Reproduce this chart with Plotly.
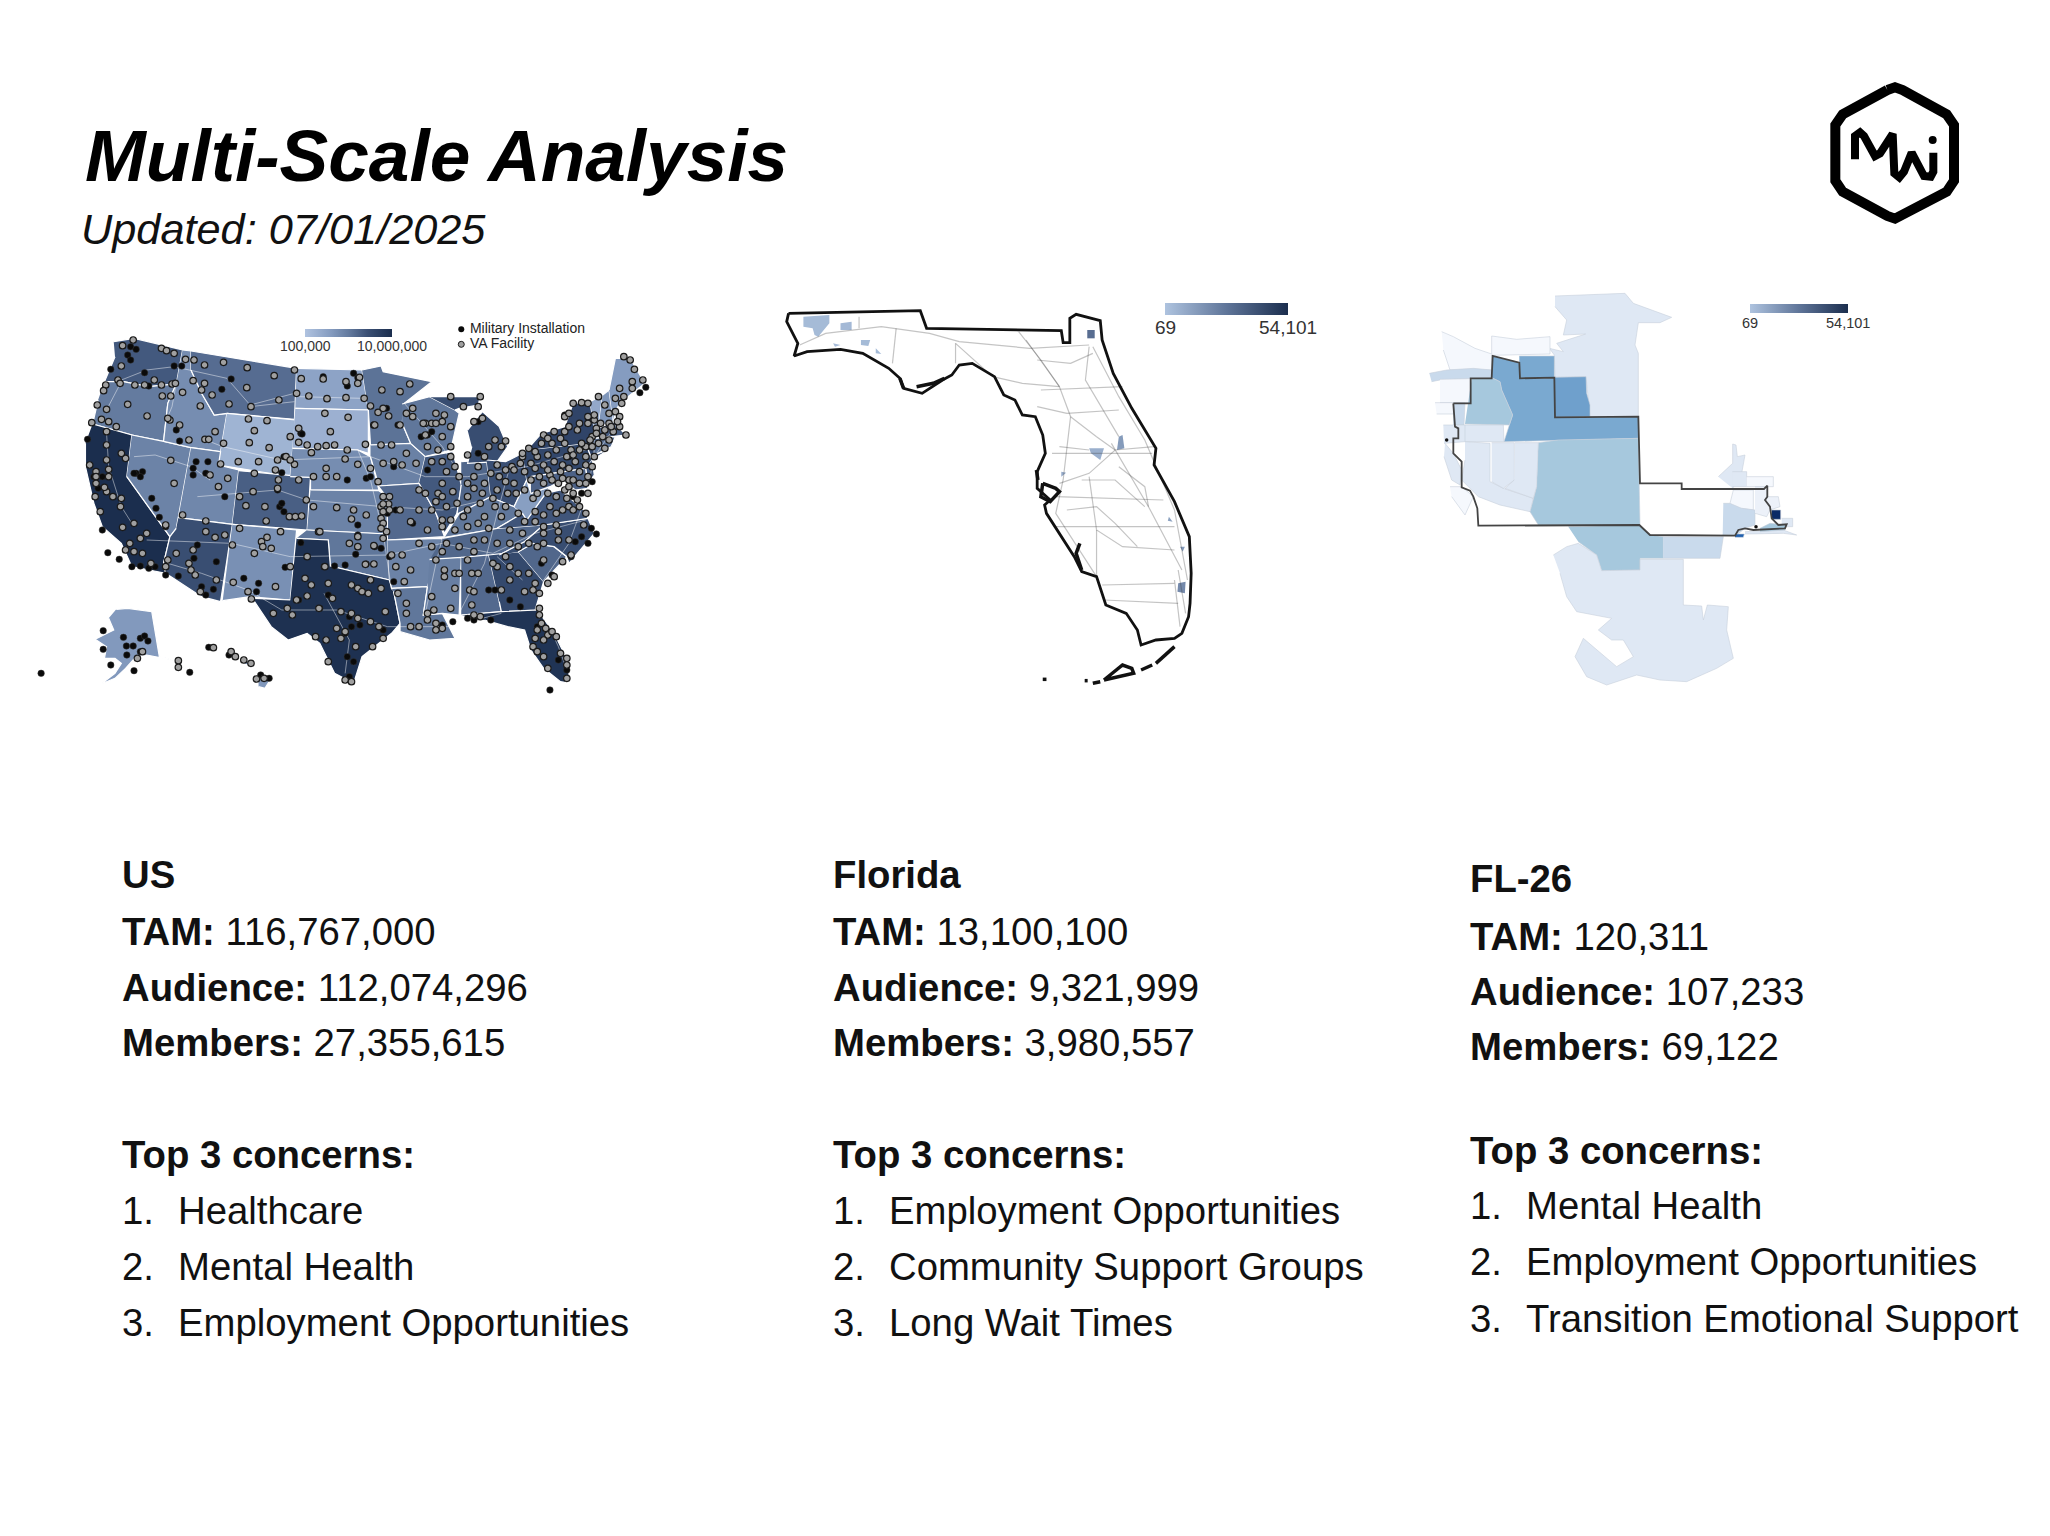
import math
import plotly.graph_objects as go
import plotly.colors as pc

# page text
TITLE = "Multi-Scale Analysis"
UPDATED = "Updated: 07/01/2025"
REGIONS = ["US", "Florida", "FL-26"]
TAM = ["116,767,000", "13,100,100", "120,311"]
AUDIENCE = ["112,074,296", "9,321,999", "107,233"]
MEMBERS = ["27,355,615", "3,980,557", "69,122"]
CONCERNS = [
    ["Healthcare", "Mental Health", "Employment Opportunities"],
    ["Employment Opportunities", "Community Support Groups", "Long Wait Times"],
    ["Mental Health", "Employment Opportunities", "Transition Emotional Support"],
]

# US map: estimated value per state, outlines (map units)
STATE_VALUES = {
    "WA": 2200000, "OR": 1000000, "CA": 10000000, "NV": 800000, "ID": 600000, "MT": 1400000,
    "WY": 170000, "UT": 700000, "CO": 1900000, "AZ": 2900000, "NM": 550000, "ND": 300000,
    "SD": 190000, "NE": 600000, "KS": 800000, "OK": 1100000, "TX": 9000000, "MN": 1200000,
    "IA": 850000, "MO": 1500000, "AR": 800000, "LA": 1100000, "WI": 1100000, "IL": 2200000,
    "IN": 1600000, "MI": 3000000, "MI2": 3000000, "OH": 2800000, "KY": 1100000, "TN": 1600000,
    "MS": 900000, "AL": 1500000, "GA": 3500000, "FL": 8000000, "SC": 1600000, "NC": 3000000,
    "VA": 2400000, "WV": 350000, "PA": 3800000, "NY": 4200000, "MD": 1800000, "NJ": 2300000,
    "VT": 250000, "NH": 450000, "ME": 380000, "MA": 2000000, "CT": 1200000, "AK": 420000,
    "HI1": 450000, "HI2": 450000, "HI3": 450000,
}
STATE_SHAPES = {
    "WA": [(222,185),(270,175),(385,210),(370,312),(305,320),(245,305),(200,305),(215,260),(225,230)],
    "OR": [(200,305),(245,305),(305,320),(370,312),(350,370),(340,484),(265,465),(172,432),(185,360)],
    "CA": [(172,432),(265,465),(253,590),(355,770),(340,850),(345,880),(265,860),(240,790),(195,740),(175,670),(155,560),(155,490)],
    "NV": [(265,465),(340,484),(405,503),(370,745),(355,770),(253,590)],
    "ID": [(385,210),(405,213),(405,270),(430,340),(460,405),(490,400),(475,515),(405,503),(340,484),(350,370),(370,312)],
    "MT": [(405,213),(655,265),(650,418),(490,400),(460,405),(430,340),(405,270)],
    "WY": [(490,400),(652,420),(640,590),(470,555)],
    "UT": [(405,503),(475,515),(470,555),(518,570),(503,733),(375,713)],
    "CO": [(518,572),(688,592),(680,750),(503,733)],
    "AZ": [(375,713),(503,733),(475,965),(430,950),(345,880),(340,850),(355,770),(370,745)],
    "NM": [(503,733),(655,750),(640,960),(545,950),(480,962)],
    "ND": [(655,265),(810,270),(825,390),(652,385)],
    "SD": [(652,385),(825,390),(825,520),(800,510),(645,505)],
    "NE": [(645,505),(800,510),(830,530),(850,630),(688,630),(688,592),(640,590)],
    "KS": [(688,630),(850,632),(870,650),(870,762),(680,750)],
    "OK": [(680,750),(870,762),(875,900),(810,880),(735,858),(730,780),(655,775)],
    "TX": [(655,775),(730,780),(735,858),(810,880),(875,900),(885,935),(900,1030),(880,1060),(810,1130),(790,1210),(745,1180),(710,1090),(680,1060),(635,1080),(595,1040),(550,955),(640,960)],
    "MN": [(810,270),(855,258),(860,275),(975,305),(910,370),(905,430),(925,490),(830,495),(825,390)],
    "IA": [(830,495),(925,490),(960,530),(950,590),(945,610),(850,618),(830,530)],
    "MO": [(850,618),(945,610),(985,700),(1005,770),(870,780),(870,650)],
    "AR": [(870,780),(1000,775),(965,920),(880,925),(875,900)],
    "LA": [(880,925),(965,920),(955,1005),(1000,1000),(1030,1075),(970,1080),(900,1055),(900,1030),(885,935)],
    "WI": [(905,372),(970,350),(1030,390),(1040,400),(1020,510),(960,530),(925,490),(905,430)],
    "IL": [(960,530),(1025,515),(1045,615),(1035,700),(1005,760),(985,700),(945,610)],
    "IN": [(1045,545),(1105,540),(1115,650),(1040,700),(1035,700),(1045,615)],
    "MI": [(1060,450),(1095,395),(1135,440),(1155,500),(1130,545),(1060,550),(1070,500)],
    "MI2": [(970,350),(1030,350),(1090,350),(1085,375),(1040,385),(1030,390)],
    "OH": [(1105,540),(1150,545),(1190,520),(1200,600),(1170,680),(1130,660),(1115,650)],
    "KY": [(1005,770),(1040,700),(1115,650),(1130,660),(1170,680),(1190,700),(1130,745)],
    "TN": [(1000,775),(1130,745),(1240,735),(1195,785),(1135,825),(970,840)],
    "MS": [(970,838),(1045,832),(1040,1005),(1000,1000),(955,1005),(965,920)],
    "AL": [(1045,832),(1110,825),(1135,965),(1140,995),(1045,1005)],
    "GA": [(1110,825),(1180,815),(1240,905),(1220,990),(1140,995),(1135,965)],
    "FL": [(1045,1005),(1140,995),(1225,990),(1265,1060),(1300,1150),(1300,1195),(1290,1207),(1280,1205),(1240,1165),(1210,1110),(1195,1050),(1155,1040),(1100,1020)],
    "SC": [(1180,815),(1215,790),(1265,800),(1295,830),(1240,905)],
    "NC": [(1135,825),(1195,785),(1240,735),(1345,715),(1360,760),(1300,850),(1295,830),(1265,800),(1215,790),(1180,815)],
    "VA": [(1130,745),(1190,700),(1200,720),(1245,640),(1280,630),(1335,690),(1345,715),(1240,735)],
    "WV": [(1170,680),(1200,600),(1210,640),(1255,620),(1245,640),(1200,720),(1190,700)],
    "PA": [(1190,520),(1200,510),(1340,490),(1355,540),(1340,565),(1210,590),(1200,600)],
    "NY": [(1200,510),(1235,460),(1290,440),(1310,370),(1350,365),(1360,450),(1360,525),(1400,505),(1355,540),(1340,490)],
    "MD": [(1210,590),(1340,565),(1345,625),(1315,630),(1285,600),(1255,620),(1210,640)],
    "NJ": [(1355,540),(1360,585),(1345,610),(1340,565)],
    "VT": [(1350,365),(1380,345),(1370,440),(1360,450)],
    "NH": [(1380,345),(1395,330),(1405,425),(1370,440)],
    "ME": [(1395,330),(1410,235),(1445,235),(1480,310),(1420,370),(1410,395),(1405,425)],
    "MA": [(1360,450),(1405,425),(1435,465),(1360,475)],
    "CT": [(1360,475),(1410,470),(1400,500),(1360,525)],
    "AK": [(228,988),(255,985),(312,995),(330,1130),(350,1135),(405,1175),(375,1150),(340,1135),(300,1125),(275,1130),(250,1165),(225,1195),(192,1212),(225,1180),(240,1150),(225,1135),(200,1135),(205,1100),(178,1078),(205,1060),(222,1050),(210,1015)],
    "HI1": [(520,1135),(545,1145),(540,1155),(525,1150)],
    "HI2": [(495,1115),(515,1120),(510,1135),(495,1130)],
    "HI3": [(565,1190),(595,1195),(580,1225),(565,1220)],
}
US_ROADS = [
    [(240,300),(300,270),(365,260),(400,270),(490,295),(545,375),(650,340)],
    [(205,390),(240,305)],[(205,460),(210,560),(240,680),(270,740)],
    [(345,425),(360,380),(370,310)],[(660,350),(810,355)],[(545,380),(650,365)],
    [(440,480),(480,500),(620,540),(830,530),(960,590),(1060,590),(1200,560),(1340,510)],
    [(270,530),(320,525),(405,560),(450,600)],[(420,650),(610,630),(680,660),(860,680),(1000,690),(1100,660)],
    [(300,780),(500,790),(640,830),(870,825),(1000,790)],[(350,850),(430,880),(540,930),(620,990),(750,990),(870,1040),(1020,1040),(1140,1000)],
    [(800,510),(830,600),(860,760),(880,930)],[(1000,775),(985,850),(960,1000)],[(1000,790),(1120,820),(1220,760),(1340,720)],
    [(1160,560),(1130,700),(1100,850),(1040,1000)],[(1190,900),(1130,830)],[(1240,900),(1300,790),(1340,650),(1360,530),(1420,420)],
    [(720,940),(780,1080),(770,1180)],[(1235,990),(1275,1100),(1295,1170)],[(910,370),(1000,500),(1030,560)],
]
LEGEND_LABELS = ["Military Installation", "VA Facility"]

VA_POINTS = [
    (243,197),(268,180),(335,205),(347,212),(365,220),(392,238),(412,240),(437,255),(482,247),(538,263),(650,270),(666,296),(718,297),(772,305),(804,292),(800,310),(857,330),(900,335),(923,312),
    (240,258),(232,300),(237,310),(203,315),(198,332),(183,375),(205,388),(193,418),(170,428),(210,425),(228,440),(255,373),(301,408),(272,315),(295,315),(318,300),(335,315),(360,312),(368,310),(337,348),(357,348),(385,337),(410,302),(437,310),(430,330),(455,345),(427,378),(495,372),(537,323),(602,287),(613,360),(547,380),(655,340),(684,348),(727,356),(772,353),(815,355),(830,378),(848,397),(873,408),(838,435),(860,385),
    (355,420),(378,435),(400,480),(438,478),(447,478),(462,455),(482,490),(350,415),
    (541,417),(585,422),(555,452),(640,470),(722,400),(777,412),(735,455),(660,445),(660,487),(680,495),(705,500),(725,497),(745,495),(690,518),(543,488),(590,503),(630,530),(517,545),(565,545),(475,552),(610,540),(650,553),(640,540),(605,570),
    (205,455),(205,540),(205,495),(165,555),(180,575),(210,568),(210,590),(250,535),(240,520),(357,541),(365,610),(470,620),(492,595),(450,585),
    (180,590),(180,610),(178,650),(205,635),(220,650),(240,655),(200,622),(238,680),(190,695),(243,742),(270,730),(300,760),(285,775),(260,790),(250,810),(270,815),(290,820),(310,850),(350,840),(345,860),(370,820),(410,810),(400,850),(405,870),(415,885),(465,900),(427,935),(385,705),(440,723),(462,772),(485,765),(440,755),(503,795),(520,745),(345,735),
    (555,580),(552,635),(520,650),(535,677),(612,600),(610,625),(660,600),(678,660),(580,680),(583,723),(638,710),(652,710),(667,708),(617,755),(707,755),
    (585,772),(572,785),(575,800),(595,805),(555,820),(505,907),(540,935),(605,920),(548,957),(640,860),
    (770,537),(800,553),(725,565),(695,590),(750,590),(725,590),(830,565),(848,605),(860,550),(885,545),(905,555),(915,520),(938,550),(855,495),(880,495),(775,510),(818,493),(840,435),(900,435),(975,430),(960,430),(1000,425),
    (750,683),(695,680),(710,755),(790,690),(785,717),(820,705),(855,680),(875,650),(860,650),(873,672),(860,672),(860,695),(875,690),(855,715),(860,730),(868,755),(855,745),(800,770),(780,790),(800,800),(838,797),(818,853),(838,852),(860,775),(880,825),
    (680,830),(722,860),(675,895),(690,915),(730,910),(785,915),(800,925),(810,935),(825,940),(830,900),(855,925),(680,948),(655,960),(600,1000),(633,985),(645,1005),(708,985),(740,955),(760,995),(785,1000),(800,1015),(830,1025),(865,995),(850,1040),(750,1045),(770,1055),(725,1080),(700,1070),(760,1075),(795,1100),(860,1075),(835,1100),(730,1145),(770,1200),(785,1205),
    (905,825),(925,870),(890,860),(910,905),(895,940),(915,970),(915,1000),(925,1040),(945,1040),(965,1020),(985,1030),(1000,1045),(985,1050),(965,1000),
    (900,690),(925,725),(945,690),(975,690),(1000,720),(1020,720),(1000,740),(965,750),(945,790),(975,800),(1010,790),(1000,815),(985,840),(1005,870),(1030,880),(1030,925),(1005,890),(975,950),(980,990),(1020,985),(1065,930),(1075,935),(1070,975),(1040,880),(1070,880),(1085,880),
    (915,400),(930,385),(930,410),(955,430),(985,400),(1005,405),(985,430),(1020,440),(1000,470),(965,500),(960,465),(990,510),(975,545),(1000,545),(1020,500),(1020,530),(1030,560),(1010,575),(1000,610),(1040,590),(945,630),(960,640),(990,640),(1000,650),(1025,635),(1060,650),(1075,625),(1100,610),(1075,590),(1085,560),(1130,555),(1165,560),(1185,550),(1190,530),(1150,605),(1130,630),(1155,640),(1175,640),(1095,640),(1090,670),(1125,680),(1150,680),(1100,710),(1050,710),(1060,740),(1030,750),(1075,780),(1100,780),(1040,800),(1060,840),(1075,815),(1130,790),(1160,790),(1180,800),(1205,790),(1190,760),(1160,750),(1195,725),(1220,695),(1215,655),(1240,740),(1275,755),(1240,760),(1270,735),
    (1075,425),(1095,415),(1125,480),(1140,500),(1150,483),(1110,500),(1100,530),(1060,525),(1020,350),(1050,380),(1085,380),(1090,350),
    (1130,860),(1160,860),(1180,880),(1205,880),(1220,910),(1160,900),(1140,930),(1195,935),(1215,930),(1230,940),(1250,910),(1240,840),(1265,890),(1285,845),(1305,825),(1300,780),(1275,780),(1240,790),(1225,800),(1150,830),(1120,850),(1090,1010),(1075,1005),
    (1230,985),(1230,1005),(1235,1030),(1225,1050),(1245,1045),(1250,1065),(1260,1055),(1220,1075),(1240,1080),(1270,1070),(1215,1100),(1225,1115),(1280,1120),(1295,1135),(1295,1155),(1295,1195),(1250,1165),(1240,1130),
    (1240,465),(1265,455),(1290,455),(1310,370),(1330,368),(1345,370),(1290,410),(1300,400),(1260,490),(1235,490),(1205,505),(1190,520),(1300,440),(1320,450),(1345,430),(1360,420),(1385,375),(1410,355),(1430,350),(1450,305),(1420,325),(1370,350),(1430,230),(1445,240),(1455,268),(1475,300),(1450,325),(1425,370),(1395,400),(1410,395),(1420,410),(1435,465),(1420,440),(1395,430),(1375,430),(1365,445),(1385,450),(1405,455),(1380,470),(1395,480),(1355,470),(1340,500),(1355,500),(1370,490),(1385,505),(1340,530),(1325,510),(1305,510),(1290,490),(1270,510),(1250,525),(1225,530),(1210,550),(1240,555),(1265,545),(1295,530),(1315,545),(1340,555),(1360,530),(1325,575),(1300,565),(1280,575),(1255,585),(1230,590),(1210,600),(1240,610),(1275,610),(1300,600),(1325,610),(1345,590),(1310,640),(1290,630),(1270,650),(1300,680),(1340,700),(1310,690),(1255,680),(1240,705),(1335,735),(1345,640),
    (278,1135),(290,1115),(375,1142),(375,1162),(458,1103),(500,1115),(510,1130),(530,1140),(547,1150),(560,1197),(578,1195),
    (1170,570),(1150,570),(1195,575),(1220,565),(1250,570),(1285,555),(1310,525),(1330,490),(1350,480),(1365,460),(1400,440),(1415,425),(1360,405),(1345,410),(1325,430),(1280,475),(1250,475),(1220,515),(1195,630),(1225,640),(1250,640),(1320,660),(1295,655),(1285,690),(1270,700),(1220,725),(1180,700),(1140,710),(1110,745),(1085,730),(1060,690),(1035,670),(1010,680),(985,665),(1060,610),(1115,580),(1135,590),(1170,610),(1120,655),(1300,620),(1325,680),(1355,560),(1340,610),(1310,600),(1285,595),(1260,600),
]
MILITARY_POINTS = [
    (262,200),(275,208),(255,225),(262,240),(215,268),(295,278),(365,258),(383,258),(305,318),(478,328),(500,297),(718,290),(775,318),(790,280),(800,293),(868,385),(895,435),(370,450),(378,483),(160,478),(275,580),(290,575),(285,590),(270,580),(410,565),(440,580),(445,545),(417,545),(410,585),(620,578),(625,530),(665,460),(668,462),(610,630),(615,680),(625,695),(620,670),(312,655),(322,685),(330,712),(345,740),(485,650),(175,590),(195,590),(185,625),(195,750),(208,818),(235,838),(265,860),(285,858),(305,865),(320,860),(345,885),(375,888),(412,835),(420,795),(465,845),(430,920),(440,945),(458,928),(665,788),(720,860),(745,858),(770,855),(820,852),(795,823),(840,800),(855,805),(875,830),(885,905),(800,765),(800,735),(870,700),(890,690),(930,730),(965,570),(885,560),(775,600),(820,595),(830,590),(950,470),(965,465),(975,455),(1085,520),(1085,425),(660,960),(565,910),(560,935),(530,895),(628,862),(730,945),(710,985),(780,1010),(785,1040),(805,1035),(770,1060),(775,1130),(790,1145),(780,1190),(860,1050),(1125,930),(1110,930),(1160,960),(1185,980),(1235,850),(1260,885),(1315,785),(1330,770),(1353,745),(1365,762),(1345,790),(1305,830),(1482,322),(1468,338),(1025,1025),(1000,1035),(1060,1015),(1075,1020),(1115,1020),(1255,1230),(1295,1170),(1275,1140),(1225,1040),(1355,605),(1330,640),(1310,650),(1300,530),(1290,405),
    (197,1052),(197,1108),(215,1155),(245,1072),(252,1098),(268,1098),(253,1125),(285,1075),(295,1068),(303,1083),(285,1115),(270,1172),(402,1177),(50,1180),(447,1102),(495,1125),(570,1185),(590,1195),
]

# Florida map
FL_OUTLINE = [(50,100),(405,92),(422,145),(785,152),(790,188),(808,188),(808,115),(825,103),(890,122),(895,180),(925,280),(975,385),(1040,505),(1035,555),(1090,665),(1130,770),(1135,880),(1132,970),(1128,1010),(1110,1060),(1090,1075),(1040,1080),(1000,1095),(990,1050),(960,1000),(905,975),(880,890),(840,875),(820,830),(780,760),(745,700),(740,675),(755,660),(720,625),(720,575),(742,520),(735,465),(715,410),(680,405),(660,360),(630,345),(605,290),(545,250),(510,255),(490,285),(465,300),(410,340),(360,325),(350,295),(320,265),(250,220),(190,208),(100,215),(65,228),(75,190),(45,125),(50,100)]
FL_COAST_BITS = [
    [(735,610),(770,625),(780,635),(755,665),(730,650),(735,610)],
    [(835,790),(825,820),(840,870)],[(395,320),(440,310),(470,295)],[(350,295),(360,325)],
    [(900,1200),(950,1155),(975,1165),(980,1180),(900,1200)],[(1000,1170),(1030,1155)],[(1040,1150),(1090,1100)],[(870,1210),(890,1205)],
    [(735,1198),(745,1198)],[(848,1202),(856,1202)],[(718,570),(722,600)],
]
FL_ROADS = [
    [(80,195),(150,160),(300,140),(430,160),(510,185),(700,205),(860,195)],
    [(690,180),(780,320),(810,410),(790,600),(770,700),(880,890)],
    [(870,200),(940,350),(1010,480),(1090,690),(1125,900)],
    [(780,610),(860,580),(930,510),(1035,500)],
    [(920,490),(1020,680),(1110,870)],
    [(895,915),(1090,910)],
    [(730,330),(950,320)],[(500,190),(500,250)],[(760,520),(1030,520)],[(770,650),(1060,660)],[(770,740),(1090,740)],
    [(860,590),(880,750),(950,800),(1090,810)],[(800,400),(940,390)],[(880,750),(880,890)],[(900,960),(1100,970)],
    [(670,155),(730,240),(780,320)],[(860,200),(850,300),(940,470)],[(720,380),(800,400)],
    [(500,190),(600,290),(680,310),(780,320)],[(720,240),(810,250),(870,220)],[(810,410),(880,470),(930,510)],
    [(940,560),(1010,620),(1020,680)],[(840,600),(930,600),(1010,680)],[(780,500),(860,510)],[(800,690),(880,680),(930,730),(990,800)],
    [(330,250),(340,145)],[(240,110),(240,145)],[(1100,870),(1120,1000)],[(1090,900),(1105,1040)],
]
FL_PATCHES = [
    [(90,110),(160,105),(160,130),(130,170),(120,165),(115,145),(90,140)],
    [(190,130),(220,125),(220,150),(190,150)],[(245,180),(270,180),(265,198),(245,195)],[(170,190),(190,195),(175,200)],
    [(855,150),(875,150),(875,175),(855,175)],[(860,505),(900,505),(890,540),(865,520)],[(940,470),(950,465),(955,505),(935,510)],
    [(1105,800),(1118,800),(1112,815)],[(1075,710),(1085,725),(1072,722)],[(1100,910),(1120,905),(1118,940),(1098,935)],
    [(785,575),(798,578),(785,590)],[(285,205),(300,222),(285,220)],
]
FL_PATCH_VALUES = [3000, 3500, 3000, 2500, 30000, 7000, 14000, 14000, 12000, 20000, 9000, 3000]

# FL-26 map
CD_SHAPES = [
    [(405,48),(615,40),(640,70),(755,112),(720,128),(655,128),(645,195),(655,220),(655,410),(510,410),(498,290),(405,292),(403,225),(388,205),(430,215),(410,190),(497,162),(430,165),(440,120),(405,80)],
    [(65,155),(100,170),(165,205),(215,222),(215,168),(290,178),(390,170),(390,222),(215,226),(215,270),(160,270),(90,270),(70,210)],
    [(28,280),(80,270),(160,265),(215,270),(215,293),(155,295),(60,300),(35,305)],
    [(60,298),(152,296),(152,368),(60,368)],
    [(45,368),(100,368),(100,402),(50,402)],
    [(100,368),(135,368),(132,435),(100,435)],
    [(218,228),(298,248),(300,295),(403,293),(405,412),(655,410),(655,475),(415,480),(252,485),(268,435),(278,405),(245,330),(240,305),(215,293)],
    [(405,292),(498,290),(500,340),(510,375),(510,410),(405,412)],
    [(298,228),(403,228),(403,293),(300,295),(298,248)],
    [(155,296),(215,293),(240,305),(245,330),(278,405),(268,435),(135,432)],
    [(355,488),(415,480),(655,475),(660,735),(355,735),(330,695),(350,620)],
    [(445,740),(660,735),(690,765),(730,770),(730,835),(660,835),(660,870),(545,872),(530,825),(475,785)],
    [(730,770),(910,770),(900,835),(730,835)],
    [(400,825),(440,800),(475,790),(530,825),(545,872),(660,870),(660,838),(790,838),(790,975),(845,978),(850,1020),(862,975),(925,980),(920,1050),(940,1135),(890,1165),(800,1205),(720,1200),(650,1185),(560,1215),(500,1190),(465,1130),(490,1075),(530,1110),(590,1160),(640,1130),(610,1080),(575,1080),(535,1050),(575,1015),(470,995),(440,950),(420,880)],
    [(135,435),(250,435),(252,485),(135,485)],
    [(135,485),(210,490),(210,605),(250,625),(340,655),(330,695),(240,675),(175,650),(125,600),(135,540)],
    [(215,488),(283,488),(283,600),(250,625),(215,605)],
    [(285,488),(355,488),(350,620),(340,655),(255,625),(283,600)],
    [(70,435),(135,435),(135,485),(72,490)],
    [(75,490),(100,520),(125,570),(120,615),(95,600),(72,530)],
    [(90,620),(125,620),(160,650),(135,705),(95,650)],
    [(895,590),(938,550),(938,492),(948,495),(952,530),(975,525),(965,580),(938,625)],
    [(937,575),(980,575),(980,620),(937,620)],
    [(980,590),(1060,590),(1060,620),(980,620)],
    [(930,670),(940,630),(1000,630),(1000,690),(965,685)],
    [(910,670),(930,670),(965,685),(1005,690),(1005,735),(975,745),(950,765),(908,765)],
    [(1005,620),(1040,620),(1040,650),(1075,650),(1080,680),(1050,690),(1040,710),(1005,700)],
    [(975,755),(1090,750),(1130,765),(1090,760),(975,762)],
    [(1085,715),(1118,715),(1118,740),(1085,740)],
    [(1020,745),(1050,730),(1100,735),(1095,750),(1020,755)],
    [(945,762),(973,762),(970,772),(945,772)],
    [(1055,690),(1082,690),(1082,718),(1055,718)],
]
CD_VALUES = [6500, 300, 13000, 300, 300, 13000, 25500, 27500, 25500, 19000, 19000, 19000, 13000, 6500, 6500, 6500, 6500, 6500, 6500, 6500, 300, 6500, 6500, 300, 300, 13000, 3000, 6500, 6500, 19000, 42000, 54101]
CD_OUTLINE = [(100,370),(152,370),(152,295),(215,295),(218,228),(298,248),(300,295),(403,293),(405,412),(655,410),(660,610),(785,610),(785,627),(1032,627),(1042,617),(1042,650),(1035,660),(1050,680),(1055,715),(1075,735),(1100,733),(1095,745),(1000,750),(975,745),(955,750),(945,767),(690,765),(658,735),(175,737),(172,685),(160,650),(150,632),(125,622),(125,545),(100,520),(100,475),(115,475),(115,445),(105,440),(100,370)]
CD_DOTS = [(80,480),(1008,740)]

# logo strokes
LOGO_HEX = [(262,90),(285,82),(308,90),(440,163),(462,195),(462,362),(440,395),(308,468),(285,476),(262,468),(128,395),(106,362),(106,195),(128,163),(262,90)]
LOGO_LETTERS = [(165,298),(165,228),(180,217),(192,228),(225,288),(240,280),(278,222),(283,340),(298,352),(312,335),(335,278),(372,348),(392,350),(400,335),(400,278)]
LOGO_DOT = [(398,240)]

PAGE_W = 2050
PAGE_H = 1536
US_SCALE = [[0, "#b0c3e0"], [0.3, "#849bbf"], [0.5, "#647b9f"], [0.72, "#3a4f74"], [1, "#1b2e4e"]]
ZIP_SCALE = [[0, "#aec3df"], [0.5, "#5f7599"], [1, "#1b2e4e"]]
CD_SCALE = [[0, "#f6f9fd"], [0.12, "#dfe8f4"], [0.24, "#c9daec"], [0.35, "#a6c8dd"], [0.47, "#7aa9d0"], [0.78, "#1f5fae"], [1, "#0b2a66"]]

fig = go.Figure()
anns = []


def xs(pts):
    return [p[0] for p in pts]


def ys(pts):
    return [p[1] for p in pts]


def add_text(x, y, text, size, anchor="left", color="#111"):
    anns.append(dict(x=x / PAGE_W, y=1 - y / PAGE_H, xref="paper", yref="paper", xanchor=anchor, yanchor="middle",
                     text=text, showarrow=False, align="left", font=dict(family="Liberation Sans", size=size, color=color)))


def add_poly(pts, color, ax, line="white", width=1.2):
    fig.add_trace(go.Scatter(x=xs(pts), y=ys(pts), mode="lines", fill="toself", fillcolor=color,
                             line=dict(color=line, width=width), xaxis="x" + ax, yaxis="y" + ax,
                             hoverinfo="skip", showlegend=False))


def add_line(pts, color, width, ax, shape="linear"):
    fig.add_trace(go.Scatter(x=xs(pts), y=ys(pts), mode="lines", line=dict(color=color, width=width, shape=shape),
                             xaxis="x" + ax, yaxis="y" + ax, hoverinfo="skip", showlegend=False))


def add_colorbar(ax, pts, cmin, cmax, labels, scale, left, right, top, thick, size, label_y):
    # one invisible point carries the colorbar, labels sit closer to the bar than plotly's ticks
    fig.add_trace(go.Scatter(x=xs(pts), y=ys(pts), mode="markers", xaxis="x" + ax, yaxis="y" + ax, showlegend=False,
                             hoverinfo="skip",
                             marker=dict(size=1, opacity=0, color=[cmin], cmin=cmin, cmax=cmax, colorscale=scale,
                                         colorbar=dict(orientation="h", x=(left + right) / 2 / PAGE_W, xanchor="center",
                                                       y=1 - top / PAGE_H, yanchor="top", len=right - left, lenmode="pixels",
                                                       thickness=thick, thicknessmode="pixels", outlinewidth=0, xpad=0, ypad=0,
                                                       showticklabels=False, ticks=""))))
    add_text(left, label_y, labels[0], size, "center", "#333")
    add_text(right, label_y, labels[1], size, "center", "#333")


# US panel
for name, shape in STATE_SHAPES.items():
    t = (math.log10(STATE_VALUES[name]) - 5) / 2
    add_poly(shape, pc.sample_colorscale(US_SCALE, t)[0], "")
for road in US_ROADS:
    add_line(road, "rgba(255,255,255,0.45)", 1, "")
fig.add_trace(go.Scatter(x=xs(MILITARY_POINTS), y=ys(MILITARY_POINTS), mode="markers", name=LEGEND_LABELS[0], hoverinfo="skip",
                         marker=dict(color="#0a0a0a", size=6.5, line=dict(color="#333", width=0.5)), showlegend=False))
fig.add_trace(go.Scatter(x=xs(VA_POINTS), y=ys(VA_POINTS), mode="markers", name=LEGEND_LABELS[1], hoverinfo="skip",
                         marker=dict(color="#a0a0a0", size=6.5, line=dict(color="#1a1a1a", width=1.2)), showlegend=False))
fig.add_trace(go.Scatter(x=[1045], y=[148], mode="markers+text", text=[" " + LEGEND_LABELS[0]], textposition="middle right", hoverinfo="skip",
                         marker=dict(color="#0a0a0a", size=6), textfont=dict(family="Liberation Sans", size=14, color="#222"), showlegend=False))
fig.add_trace(go.Scatter(x=[1045], y=[193], mode="markers+text", text=[" " + LEGEND_LABELS[1]], textposition="middle right", hoverinfo="skip",
                         marker=dict(color="#a0a0a0", size=6, line=dict(color="#1a1a1a", width=1)),
                         textfont=dict(family="Liberation Sans", size=14, color="#222"), showlegend=False))
add_colorbar("", [(780, 160)], 5, 7, ["100,000", "10,000,000"], US_SCALE, 305, 392, 329, 8, 14, 346)

# Florida panel
for shape, val in zip(FL_PATCHES, FL_PATCH_VALUES):
    add_poly(shape, pc.sample_colorscale(ZIP_SCALE, (val - 69) / (54101 - 69))[0], "2", line="rgba(0,0,0,0)", width=0)
for road in FL_ROADS:
    add_line(road, "rgba(60,60,60,0.3)", 1.2, "2")
add_line(FL_OUTLINE, "#111", 2.8, "2")
for bit in FL_COAST_BITS:
    add_line(bit, "#111", 3.5, "2")
add_colorbar("2", [(1230, 85)], 69, 54101, ["69", "54,101"], ZIP_SCALE, 1165, 1288, 303, 12, 19, 327)

# FL-26 panel
for shape, val in zip(CD_SHAPES, CD_VALUES):
    add_poly(shape, pc.sample_colorscale(CD_SCALE, (val - 69) / (54101 - 69))[0], "3", line="#c8d0dc", width=0.6)
add_line(CD_OUTLINE, "#444", 1.8, "3")
fig.add_trace(go.Scatter(x=xs(CD_DOTS), y=ys(CD_DOTS), mode="markers", marker=dict(color="#111", size=3.5),
                         xaxis="x3", yaxis="y3", hoverinfo="skip", showlegend=False))
add_colorbar("3", [(1120, 85)], 69, 54101, ["69", "54,101"], ZIP_SCALE, 1750, 1848, 304, 9, 14.5, 323)

# logo
add_line(LOGO_HEX, "black", 10, "4")
add_line(LOGO_LETTERS, "black", 8, "4")
fig.add_trace(go.Scatter(x=xs(LOGO_DOT), y=ys(LOGO_DOT), mode="markers", marker=dict(color="black", size=8),
                         xaxis="x4", yaxis="y4", hoverinfo="skip", showlegend=False))

# text blocks
BODY_SIZE = 38.3
TEXT_X = [120, 831, 1468]
TEXT_Y = [[874, 931, 987, 1042, 1154, 1210, 1266, 1322],
          [874, 931, 987, 1042, 1154, 1210, 1266, 1322],
          [878, 936, 991, 1046, 1150, 1205, 1261, 1318]]

add_text(83, 155, "<b><i>" + TITLE + "</i></b>", 73, color="black")
add_text(79, 229, "<i>" + UPDATED + "</i>", 43.3)
for i, region in enumerate(REGIONS):
    rows = ["<b>" + region + "</b>", "<b>TAM:</b> " + TAM[i], "<b>Audience:</b> " + AUDIENCE[i], "<b>Members:</b> " + MEMBERS[i], "<b>Top 3 concerns:</b>"]
    y_rows = TEXT_Y[i]
    for row, y in zip(rows, y_rows[:5]):
        add_text(TEXT_X[i], y, row, BODY_SIZE)
    for n, concern in enumerate(CONCERNS[i]):
        add_text(TEXT_X[i], y_rows[5 + n], str(n + 1) + ".", BODY_SIZE)
        add_text(TEXT_X[i] + 56, y_rows[5 + n], concern, BODY_SIZE)

# each panel keeps the units of the picture it was read from
PANELS = {"": (20, 280, 660, 440, 1563, 1320), "2": (770, 280, 580, 440, 1563, 1320),
          "3": (1420, 280, 480, 440, 1440, 1320), "4": (1800, 60, 200, 180, 600, 540)}
axes = {}
for ax, (left, top, w, h, ux, uy) in PANELS.items():
    axes["xaxis" + ax] = dict(domain=[left / PAGE_W, (left + w) / PAGE_W], range=[0, ux], visible=False, fixedrange=True, anchor="y" + ax)
    axes["yaxis" + ax] = dict(domain=[1 - (top + h) / PAGE_H, 1 - top / PAGE_H], range=[uy, 0], visible=False, fixedrange=True, anchor="x" + ax)

fig.update_layout(width=PAGE_W, height=PAGE_H, margin=dict(l=0, r=0, t=0, b=0), paper_bgcolor="white", plot_bgcolor="rgba(0,0,0,0)",
                  showlegend=False, annotations=anns, **axes)

fig.write_html("out.html", config=dict(displayModeBar=False), post_script="document.body.style.margin='0';")
